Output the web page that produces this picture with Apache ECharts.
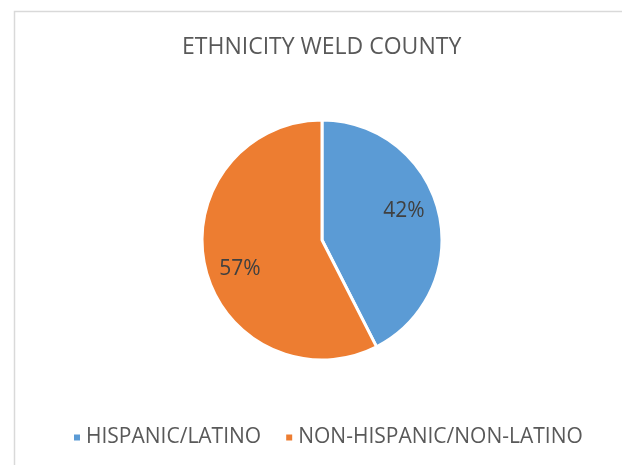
<!DOCTYPE html>
<html>
<head>
<meta charset="utf-8">
<script src="https://cdn.jsdelivr.net/npm/echarts@6/dist/echarts.min.js"></script>
<style>
html,body{margin:0;padding:0;background:#fff;}
#c{width:622px;height:465px;}
</style>
</head>
<body>
<div id="c"></div>
<script>
var titleText = 'ETHNICITY WELD COUNTY';
var categories = ['HISPANIC/LATINO', 'NON-HISPANIC/NON-LATINO'];
var values = [42.4, 57.4];
var colors = ['#5B9BD5', '#ED7D31'];

var data = categories.map(function (n, i) {
  return { name: n, value: values[i], itemStyle: { color: colors[i] } };
});

var chart = echarts.init(document.getElementById('c'));
chart.setOption({
  animation: false,
  graphic: [{
    type: 'rect', left: 12, top: 9, silent: true,
    shape: { width: 800, height: 800 },
    style: { fill: 'none', stroke: '#d9d9d9', lineWidth: 1.5 }
  }],
  title: {
    text: titleText, left: 177, top: 31,
    textStyle: { fontFamily: 'Open Sans', fontWeight: 'normal', fontSize: 23, color: '#595959' }
  },
  legend: {
    top: 422, left: 67,
    icon: 'rect', itemWidth: 8, itemHeight: 8, itemGap: 23,
    data: categories,
    textStyle: { fontFamily: 'Open Sans', fontSize: 21, color: '#595959' }
  },
  series: [{
    type: 'pie', center: [322, 240], radius: [0, 120],
    startAngle: 90, clockwise: true,
    label: { show: false }, labelLine: { show: false },
    itemStyle: { borderColor: '#fff', borderWidth: 3 },
    data: data
  }, {
    type: 'pie', center: [322, 240], radius: [48, 120],
    startAngle: 96, clockwise: true, silent: true,
    itemStyle: { color: 'transparent', borderWidth: 0 },
    label: {
      show: true, position: 'inside',
      formatter: function (p) { return Math.round(p.value) + '%'; },
      fontFamily: 'Open Sans', fontSize: 21, color: '#404040'
    },
    labelLine: { show: false },
    data: categories.map(function (n, i) { return { name: n, value: values[i] }; })
  }]
});
</script>
</body>
</html>
